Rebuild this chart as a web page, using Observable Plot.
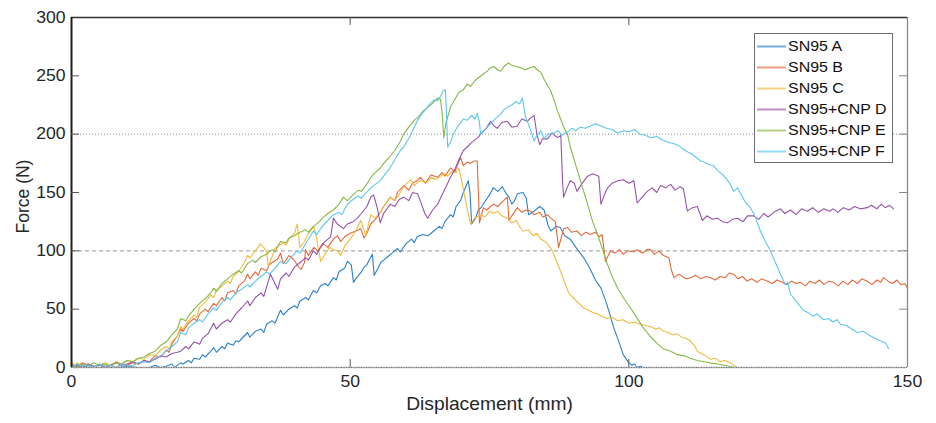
<!DOCTYPE html>
<html><head><meta charset="utf-8">
<script src="https://cdn.jsdelivr.net/npm/d3@7"></script>
<script src="https://cdn.jsdelivr.net/npm/@observablehq/plot@0.6"></script>
<style>
body{margin:0;background:#fff;}
#wrap{position:relative;width:936px;height:423px;font-family:"Liberation Sans",Arial,sans-serif;}
#legend{position:absolute;left:754px;top:33px;width:137px;height:128px;border:1px solid #6e6e6e;background:#fff;}
.row{position:absolute;left:0;width:137px;height:21px;}
.row svg{position:absolute;left:2px;top:0;}
.row span{position:absolute;left:33px;top:2px;font-size:14.5px;line-height:17px;color:#111;white-space:nowrap;transform:scaleX(1.1);transform-origin:0 50%;}
</style></head>
<body><div id="wrap"></div>
<script>
const seriesNames = ["SN95 A","SN95 B","SN95 C","SN95+CNP D","SN95+CNP E","SN95+CNP F"];
const seriesColors = ["#2a7fc9","#e4683a","#f0bb3f","#9652ab","#86b845","#5cc6f0"];
const xTicks = [0,50,100,150];
const yTicks = [0,50,100,150,200,250,300];
const xLabel = "Displacement (mm)";
const yLabel = "Force (N)";

const dataA = [[0,1],[1,0],[2,2],[3,0],[4,1],[5,0],[6,0],[8,0],[10,1],[12,0],[14,0],[15,2],[16,0],[17,1],[18,3],[18.5,0],[19,2],[19.6,4],[20,3],[21,6],[21.5,4],[22,8],[23,7],[23.5,11],[24,9],[25,14],[25.5,17],[26,13],[27,18],[27.5,16],[28,21],[29,19],[29.5,23],[30,22],[31,27],[31.6,30],[32,26],[33,31],[34,33],[34.5,30],[35,37],[36,40],[36.5,38],[37.5,49],[38,45],[39,50],[40,53],[40.5,51],[41,57],[42,60],[42.5,58],[43.4,66],[44,64],[44.7,70],[45.5,72],[46,70],[47,77],[47.5,75],[48,82],[49,85],[49.5,91],[50.2,88],[50.6,73],[51,76],[52,82],[52.5,86],[53,88],[53.5,93],[54,97],[54.3,79],[55,85],[55.5,90],[56,92],[57,96],[57.5,98],[58.5,102],[59,99],[60,106],[61,110],[61.5,107],[62,112],[63,114],[64,113],[65,117],[66,121],[66.5,119],[67,125],[68,131],[68.5,129],[69,138],[69.8,143],[70.3,150],[71.2,160],[71.5,150],[71.8,123],[72.5,128],[73,135],[73.5,137],[74,141],[75,148],[75.7,154],[76.5,151],[77.3,155],[78,149],[78.5,146],[79,140],[79.5,143],[80,149],[81,150],[81.6,145],[82,131],[83,134],[84,138],[84.8,135],[85.5,122],[86,117],[87,121],[87.7,120],[88.5,113],[89.5,110],[90.5,103],[91.9,94],[93,85],[94,75],[95,68],[96,55],[97.3,34],[98,25],[99,11],[100,4],[100.5,2],[101,3],[101.5,0],[102,1],[102.6,0],[103,0]];

const dataB = [[0,3],[1,1],[2,4],[3,2],[4,0],[5,3],[6,1],[7,2],[8,0],[9,3],[10,2],[11,4],[12,3],[13,6],[14,5],[15,10],[16,9],[17,15],[17.5,13],[18,20],[19,27],[19.6,33],[20,31],[21,38],[22,42],[22.5,40],[23,46],[24,50],[24.5,48],[25.5,55],[26,53],[27,60],[27.5,57],[28,64],[29,66],[29.5,63],[30,70],[31,74],[31.6,80],[32,76],[33,82],[33.5,79],[34,85],[35,83],[35.5,88],[36,90],[37,93],[37.5,98],[38,89],[38.5,92],[39,96],[39.8,93],[40.5,88],[41.2,84],[41.8,90],[42,101],[42.5,96],[43.5,103],[44.2,100],[45.2,106],[46,103],[47,110],[47.7,113],[48.3,108],[49,112],[50,115],[51,117],[51.9,119],[52.5,111],[53,115],[53.7,123],[54.5,127],[55.4,133],[56,138],[57.2,146],[58,143],[58.5,150],[59.6,156],[60.5,152],[61.2,158],[62,160],[62.6,163],[63.5,158],[64.5,165],[65.7,163],[66.5,167],[67,164],[68,171],[68.8,168],[69.8,180],[70.3,173],[71,176],[71.6,175],[72.2,177],[72.8,177],[73.2,124],[73.9,137],[74.5,135],[75.7,140],[76.5,138],[77.3,142],[78.2,146],[78.5,126],[79,130],[80,137],[80.8,133],[81.5,135],[82.4,134],[83,131],[84,133],[84.6,129],[85.4,131],[86,128],[86.8,125],[87.4,103],[88.3,119],[89,120],[89.7,116],[90.7,117],[91.5,113],[92.3,116],[93.1,114],[94,116],[94.7,112],[95.2,114],[95.8,91],[96.7,100],[97.5,98],[98.3,101],[99,97],[99.8,100],[100.9,99],[101.5,101],[102.5,98],[103.2,101],[103.9,101],[104.6,97],[105.4,100],[106.2,96],[107.2,94],[107.6,84],[108.1,77],[109,80],[109.6,78],[110.3,76],[111.1,77],[112,79],[112.9,76],[113.8,78],[114.7,77],[115.5,75],[116.4,78],[117.3,77],[118,81],[118.8,80],[119.6,76],[120.4,78],[121.2,74],[122,76],[123,73],[123.8,76],[124.9,74],[125.7,72],[126.6,75],[127.5,73],[128.4,71],[129.2,74],[130,72],[130.8,73],[131.7,70],[132.5,74],[133.4,72],[134.2,75],[135,71],[135.9,74],[136.7,73],[137.6,70],[138.4,74],[139.3,71],[140.1,75],[141,72],[141.8,76],[142.8,74],[143.6,71],[144.5,75],[145.2,73],[145.7,77],[146.5,74],[147.3,72],[148.1,75],[148.8,71],[149.5,72],[150,68]];

const dataC = [[0,5],[0.5,2],[1,4],[2,1],[3,3],[4,0],[5,2],[6,4],[7,2],[8,5],[9,3],[10,6],[11,5],[12,8],[13,7],[14,11],[15,10],[16,15],[17,18],[17.5,16],[18,22],[19,27],[19.6,35],[20,33],[21,40],[22,45],[22.5,43],[23,52],[24,56],[25,62],[25.5,60],[26,66],[27,70],[28,74],[28.5,72],[29,78],[30,82],[31,90],[31.6,96],[32,94],[33,100],[33.9,106],[34.5,103],[35,99],[35.3,87],[36,95],[36.5,102],[37,104],[38,107],[38.5,105],[39,110],[40,115],[40.5,123],[41,103],[41.8,108],[42.5,115],[43.5,121],[44,110],[44.7,91],[45.5,97],[46.3,103],[47,101],[47.7,100],[48.3,96],[49,104],[50,110],[51,117],[51.9,126],[52.8,113],[53.7,131],[54.5,128],[55.4,133],[56.3,140],[57.2,146],[58,143],[59,150],[59.6,155],[60.8,161],[61.5,156],[62.5,160],[63.9,159],[64.6,163],[65.4,161],[66.8,166],[67.5,164],[68.3,168],[69,167],[69.5,171],[70,160],[70.5,148],[71,136],[71.6,123],[72.3,128],[73.4,131],[74.2,129],[75,134],[75.7,132],[76.4,134],[77.2,130],[78.2,128],[79,124],[79.8,126],[80.5,120],[81,117],[82,118],[82.8,113],[83.5,115],[84.2,110],[85,108],[85.7,104],[86.3,100],[87,91],[87.7,83],[88.4,74],[89.2,64],[90,60],[90.8,56],[91.9,51],[92.8,49],[93.6,47],[94.3,46],[95.2,44],[96,42],[97,43],[98,40],[99,41],[100,38],[101,39],[102,37],[103,36],[104,35],[104.8,33],[105.5,34],[106.2,31],[107,30],[107.8,28],[108.6,29],[109.5,26],[110.3,25],[111,23],[111.7,19],[112.3,14],[113,12],[113.8,10],[114.7,7],[115.5,8],[116.3,5],[117.2,6],[118.2,4],[118.8,2],[119.5,0]];

const dataD = [[0,0],[1,2],[2,0],[3,3],[4,1],[5,2],[6,0],[7,2],[8,4],[9,2],[10,3],[11,5],[12,3],[13,6],[14,5],[15,7],[16,10],[17,9],[18,12],[19,13],[19.6,14],[20.5,18],[21,16],[22,22],[23,20],[23.5,25],[24.5,29],[25.5,38],[26,33],[27,38],[28,41],[28.5,39],[29.5,46],[30.5,51],[31.6,57],[32,53],[33,60],[34,64],[34.5,61],[35.7,80],[36.3,74],[37,67],[37.5,76],[38.5,81],[39,78],[40,86],[41,90],[42,94],[42.5,92],[43.4,100],[44,97],[45,106],[46,110],[46.5,112],[47,128],[47.7,123],[48.8,119],[49.5,123],[50.5,125],[51.3,128],[52,132],[53,138],[53.7,146],[54.2,148],[54.8,138],[55.4,124],[56,132],[57.2,140],[58,138],[58.8,144],[59.6,146],[60.5,143],[61.2,150],[62.1,149],[62.8,140],[63.4,132],[63.9,128],[64.8,135],[65.7,140],[66.5,148],[67.2,155],[68,163],[68.8,170],[69.5,178],[70.3,186],[71,189],[71.8,193],[72.9,197],[73.6,201],[74.4,205],[75.2,211],[75.8,207],[76.4,205],[77.2,210],[78.2,211],[79,206],[80,207],[80.8,213],[81.8,211],[82.4,214],[83,216],[83.5,200],[84,191],[84.5,196],[85.4,196],[86.2,201],[87.2,197],[87.8,199],[88.1,160],[88.3,146],[89,155],[89.5,160],[90.2,158],[90.7,151],[91.5,157],[92.6,164],[93.5,166],[94.6,164],[95,140],[95.6,148],[96.2,154],[97,158],[98,160],[99,161],[100,158],[100.9,160],[101.5,141],[102.4,146],[103.3,151],[104.2,154],[105,150],[105.7,156],[106.6,154],[107.5,157],[108.3,152],[109.2,155],[109.8,153],[110.5,134],[111.4,137],[112.3,138],[113.2,126],[114,130],[115,127],[115.9,128],[116.8,125],[117.7,124],[118.6,127],[119.5,128],[120.5,125],[121.3,130],[122.4,130],[123.3,127],[124.2,132],[125,129],[126,133],[127.2,136],[128,132],[129,135],[130,131],[131,136],[132,134],[133,137],[134,133],[135,136],[136,134],[136.7,136],[137.5,133],[138.5,137],[139.5,135],[140.5,138],[141.5,136],[142.8,137],[143.5,139],[144.5,136],[145.3,140],[146,137],[146.8,139],[147.5,136]];

const dataE = [[0,2],[1,0],[2,3],[3,1],[4,4],[5,2],[6,3],[7,1],[8,4],[9,3],[10,6],[11,5],[12,8],[13,9],[14,12],[15,14],[16,19],[17,22],[18,28],[19,33],[19.6,42],[20.5,40],[21,44],[22,50],[23,55],[24,59],[25,64],[25.5,68],[26,65],[27,72],[28,76],[29,80],[30,83],[30.5,81],[31.6,89],[32.5,92],[33,90],[34,95],[35,97],[36,101],[36.5,99],[37.5,108],[38.5,107],[39,111],[40,113],[41,116],[42,118],[42.5,116],[43.4,121],[44.5,125],[45,128],[46,132],[47,135],[48,140],[48.8,146],[49.5,143],[50.5,148],[51.5,152],[52,151],[53.1,158],[53.7,163],[54.5,167],[55.4,171],[56,175],[57,180],[58,186],[59,194],[59.6,200],[60.5,206],[61.5,212],[62.3,215],[63.1,220],[63.9,223],[64.7,226],[65.7,231],[66.2,230],[66.5,218],[66.8,197],[67.2,210],[68,223],[68.8,230],[69.5,236],[70.3,238],[71,243],[71.6,241],[72.4,246],[73.2,249],[74,252],[74.6,254],[75.2,257],[75.8,258],[76.5,255],[77,254],[77.6,258],[78.4,261],[79,259],[79.8,258],[80.6,257],[81.4,255],[82.2,257],[83,258],[83.6,255],[84.2,253],[84.8,247],[85.4,242],[86,237],[86.6,229],[87.2,220],[88,210],[88.6,203],[89,200],[89.5,189],[90.5,173],[91.2,162],[91.9,151],[92.6,140],[93.5,125],[94.4,114],[95.3,101],[96.2,88],[97,78],[98,68],[99,60],[100.3,51],[101.4,43],[102.6,34],[103.8,27],[105.2,20],[106.2,16],[107.5,14],[108.7,11],[110,10],[111,8],[112.3,6],[113.5,5],[114.5,4],[116,3],[117,2],[118,1],[119,0],[120,0]];

const dataF = [[0,0],[1,3],[2,1],[3,2],[4,0],[5,3],[6,1],[7,2],[8,0],[9,3],[10,1],[11,2],[12,4],[13,5],[14,4],[15,8],[16,10],[17,14],[18,18],[19,22],[19.6,30],[20.5,28],[21,34],[22,38],[23,41],[23.5,39],[24.5,46],[25.5,51],[26,49],[27,56],[28,60],[28.5,58],[29.5,64],[30.5,67],[31.6,71],[32,69],[33,74],[34,78],[35,82],[35.5,80],[36.5,85],[37.5,91],[38.5,89],[39.5,95],[40.5,100],[41,98],[42,106],[43.4,117],[44,114],[45,121],[46,126],[47,131],[48,133],[48.5,131],[49.5,140],[50.5,144],[51.5,147],[52,145],[53.1,151],[53.7,154],[54.5,157],[55.4,160],[56.3,166],[57,170],[58,178],[59,186],[59.6,189],[60.5,196],[61.2,203],[62.1,212],[62.8,217],[63.5,221],[64.3,226],[65,229],[65.7,229],[66.3,233],[66.7,237],[67.1,238],[67.3,215],[67.5,189],[68,193],[68.5,200],[69.2,206],[70.3,213],[71,212],[71.8,216],[72.4,213],[72.8,218],[73.2,210],[73.4,200],[74,203],[74.6,206],[75.4,210],[76.2,214],[77,217],[77.6,221],[78.2,223],[79,225],[79.8,228],[80.4,226],[80.9,231],[81.2,222],[81.5,214],[82.2,206],[83,194],[83.5,199],[84.2,203],[84.8,196],[85.5,200],[86.5,201],[87.3,203],[88,199],[89,202],[89.8,205],[90.5,203],[91.3,206],[92.2,205],[93.1,207],[94,209],[95,207],[96,205],[97,204],[98,201],[99,203],[100,202],[101,204],[102,200],[103,199],[103.9,197],[105,198],[106,195],[107,193],[108,192],[109,190],[109.8,187],[110.5,185],[111.3,183],[112.1,180],[112.9,177],[113.6,176],[114.4,174],[115.2,173],[115.9,169],[116.7,166],[117.5,162],[118.2,157],[118.8,151],[119.5,154],[120.3,147],[121,141],[121.8,137],[122.6,130],[123.6,117],[124.5,108],[125.4,100],[126.3,90],[127.2,80],[128.1,71],[128.5,73],[129,63],[130,57],[131.3,49],[132.2,47],[133,44],[133.8,46],[134.9,41],[135.8,42],[136.6,39],[137.3,41],[138,37],[139,36],[140,33],[141,30],[142,31],[143,28],[143.8,26],[144.6,24],[145.5,22],[146.1,21],[146.4,18],[146.6,16]];

const allSeries = [dataA, dataB, dataC, dataD, dataE, dataF];
const rows = [];
allSeries.forEach((d, i) => d.forEach(([x, y]) => rows.push({s: seriesNames[i], x, y})));

const W = 936, H = 423, mL = 71, mR = 29, mT = 17, mB = 56;
const pw = W - mL - mR, ph = H - mT - mB;
const tk = 8;
const innerY = yTicks.filter(v => v > 0 && v < 300);
const innerX = xTicks.filter(v => v > 0 && v < 150);

const chart = Plot.plot({
  width: W, height: H,
  marginLeft: mL, marginRight: mR, marginTop: mT, marginBottom: mB,
  x: {domain: [0, 150]},
  y: {domain: [0, 300]},
  color: {domain: seriesNames, range: seriesColors},
  style: {fontFamily: '"Liberation Sans", Arial, sans-serif', color: "#262626", background: "#fff"},
  marks: [
    Plot.ruleY([100], {stroke: "#ababab", strokeDasharray: "4,3", strokeWidth: 1.2}),
    Plot.ruleY([200], {stroke: "#8a8a8a", strokeDasharray: "1,2", strokeWidth: 1}),
    Plot.line(rows, {x: "x", y: "y", z: "s", stroke: "s", strokeWidth: 1.1}),
    Plot.ruleY([0], {stroke: "#b5b5b5", strokeWidth: 1.5}),
    Plot.ruleY([0], {stroke: "#6f6f6f", strokeDasharray: "1,1.5", strokeWidth: 1}),
    Plot.ruleY([300], {stroke: "#333", strokeWidth: 1.6}),
    Plot.ruleX([150], {stroke: "#8a8a8a", strokeWidth: 1.3}),
    Plot.ruleX([0], {stroke: "#1e1e1e", strokeWidth: 2}),
    Plot.tickY(innerY, {y: d => d, insetRight: pw - tk, stroke: "#555"}),
    Plot.tickY(innerY, {y: d => d, insetLeft: pw - tk, stroke: "#888"}),
    Plot.tickX(innerX, {x: d => d, insetTop: ph - tk, stroke: "#555"}),
    Plot.tickX(innerX, {x: d => d, insetBottom: ph - tk, stroke: "#555"}),
    Plot.axisX({ticks: xTicks, tickSize: 0, tickPadding: 8, fontSize: 16, label: null}),
    Plot.axisY({ticks: yTicks, tickSize: 0, tickPadding: 6, fontSize: 16, label: null}),
    Plot.text([xLabel], {frameAnchor: "bottom", textAnchor: "middle", dy: 42.4, fontSize: 17.5, fill: "#262626"}),
    Plot.text([yLabel], {frameAnchor: "left", textAnchor: "middle", rotate: -90, dx: -48, dy: 4, fontSize: 17.5, fill: "#262626"})
  ]
});

// horizontal stretch of horizontal text to match reference proportions
chart.querySelectorAll("text").forEach(t => {
  if (t.textContent === yLabel) return;
  const tr = t.getAttribute("transform") || "";
  t.setAttribute("transform", (tr + " scale(1.1,1)").trim());
});

const wrap = document.getElementById("wrap");
wrap.appendChild(chart);

const legend = document.createElement("div");
legend.id = "legend";
seriesNames.forEach((name, i) => {
  const row = document.createElement("div");
  row.className = "row";
  row.style.top = (2 + 21 * i) + "px";
  row.innerHTML = `<svg width="30" height="21"><line x1="0" x2="29" y1="10.5" y2="10.5" stroke="${seriesColors[i]}" stroke-width="2" stroke-opacity="0.65"/></svg><span>${name}</span>`;
  legend.appendChild(row);
});
wrap.appendChild(legend);
</script>
</body></html>
